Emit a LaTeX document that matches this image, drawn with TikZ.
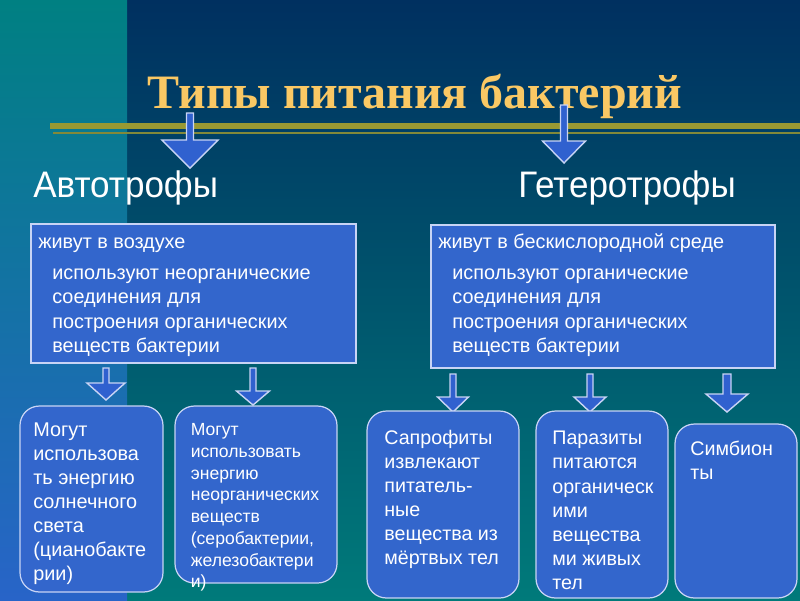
\documentclass[tikz,border=0pt]{standalone}
\usepackage{fontspec}
\setmainfont{Liberation Sans}
\newfontfamily\titlefont{Liberation Serif}
\newfontfamily\headfont[FakeStretch=0.95]{Liberation Sans}
\usetikzlibrary{positioning}
\definecolor{bgtop}{RGB}{0,48,96}
\definecolor{bgbot}{RGB}{0,122,122}
\definecolor{striptop}{RGB}{0,128,130}
\definecolor{stripbot}{RGB}{40,100,200}
\definecolor{boxblue}{RGB}{51,102,204}
\definecolor{boxedge}{RGB}{200,212,245}
\definecolor{titlegold}{RGB}{250,200,100}
\definecolor{ruleolive}{RGB}{153,153,51}
\newcommand{\boxfont}{\fontsize{11.3}{13.9}\selectfont}
% x, top, neck, tip, stem half width, head half width
\newcommand{\downblock}[6]{%
  \draw[blockarrow] (#1-#5,#2) -- (#1+#5,#2) -- (#1+#5,#3) -- (#1+#6,#3)
    -- (#1,#4) -- (#1-#6,#3) -- (#1-#5,#3) -- cycle;}
\tikzset{
  panel/.style={draw=boxedge, line width=0.7pt, fill=boxblue, inner sep=0pt},
  roundbox/.style={panel, rounded corners=11pt},
  blockarrow/.style={draw=boxedge, line width=0.8pt, fill=boxblue!95!blue, line join=miter},
  boxtext/.style={text=white, inner sep=0pt, align=left, font=\boxfont},
  heading/.style={anchor=base west, inner sep=0pt, text=white, font=\headfont\fontsize{21}{24}\selectfont},
}

\begin{document}
\begin{tikzpicture}[x=0.02cm, y=-0.02cm]
    \useasboundingbox (0,0) rectangle (800,600);
    % background
    \shade[top color=bgtop, bottom color=bgbot] (0,0) rectangle (800,600);
    \shade[top color=striptop, bottom color=stripbot] (0,0) rectangle (127,600);
    \fill[ruleolive] (50,123) rectangle (800,129);
    \fill[ruleolive!85!bgtop] (53,131.5) rectangle (800,134);
    % title and headings
    \node[anchor=base, text=titlegold, font=\titlefont\bfseries\fontsize{27.3}{30}\selectfont]
      (title) at (415,108) {Типы питания бактерий};
    \node[heading] (autoHead) at (33,197) {Автотрофы};
    \node[heading] (heteroHead) at (518,197) {Гетеротрофы};
    \downblock{190}{113}{140}{168}{3.5}{28}
    \downblock{564}{105}{141}{163}{3.5}{21.5}
    % panels
    \node[panel, minimum width=6.5cm, minimum height=2.78cm] (autoPanel) at (193.5,293.5) {};
    \node[panel, minimum width=6.88cm, minimum height=2.86cm] (heteroPanel) at (603,296.5) {};
    \node[boxtext, anchor=base west] (autoAir) at (38,248) {живут в воздухе};
    \node[boxtext, anchor=north west] (autoUse) at (52,268.5)
      {используют неорганические\\соединения для\\построения органических\\веществ бактерии};
    \node[boxtext, anchor=base west] (heteroAir) at (438,248) {живут в бескислородной среде};
    \node[boxtext, anchor=north west] (heteroUse) at (452,268.5)
      {используют органические\\соединения для\\построения органических\\веществ бактерии};
    % small arrows
    \downblock{106}{368}{383}{400}{3}{19}
    \downblock{253}{368}{391}{405}{3}{16.5}
    \downblock{453}{374}{397}{412}{3}{15.5}
    \downblock{590}{374}{397}{412}{3}{16}
    \downblock{727}{374}{394}{412}{4}{21}
    % lower boxes
    \node[roundbox, minimum width=2.86cm, minimum height=3.72cm] (sunBox) at (91.5,499) {};
    \node[roundbox, minimum width=3.24cm, minimum height=3.54cm] (chemoBox) at (256,494.5) {};
    \node[roundbox, minimum width=3.04cm, minimum height=3.74cm] (saproBox) at (443,504.5) {};
    \node[roundbox, minimum width=2.64cm, minimum height=3.74cm] (paraBox) at (602,504.5) {};
    \node[roundbox, minimum width=2.44cm, minimum height=3.48cm] (symbBox) at (736,511) {};
    \node[boxtext, anchor=north west, font=\fontsize{11.3}{13.7}\selectfont] (sunText) at (33,422)
      {Могут\\использова\\ть энергию\\солнечного\\света\\(цианобакте\\рии)};
    \node[boxtext, anchor=north west, font=\fontsize{10}{12.4}\selectfont] (chemoText) at (190.5,423)
      {Могут\\использовать\\энергию\\неорганических\\веществ\\(серобактерии,\\железобактери\\и)};
    \node[boxtext, anchor=north west, font=\fontsize{11.2}{13.7}\selectfont] (saproText) at (384,430)
      {Сапрофиты\\извлекают\\питатель-\\ные\\вещества из\\мёртвых тел};
    \node[boxtext, anchor=north west, font=\fontsize{11.2}{13.7}\selectfont] (paraText) at (552,431)
      {Паразиты\\питаются\\органическ\\ими\\вещества\\ми живых\\тел};
    \node[boxtext, anchor=north west, font=\fontsize{11.2}{13.7}\selectfont] (symbText) at (690,441)
      {Симбион\\ты};
\end{tikzpicture}
\end{document}
